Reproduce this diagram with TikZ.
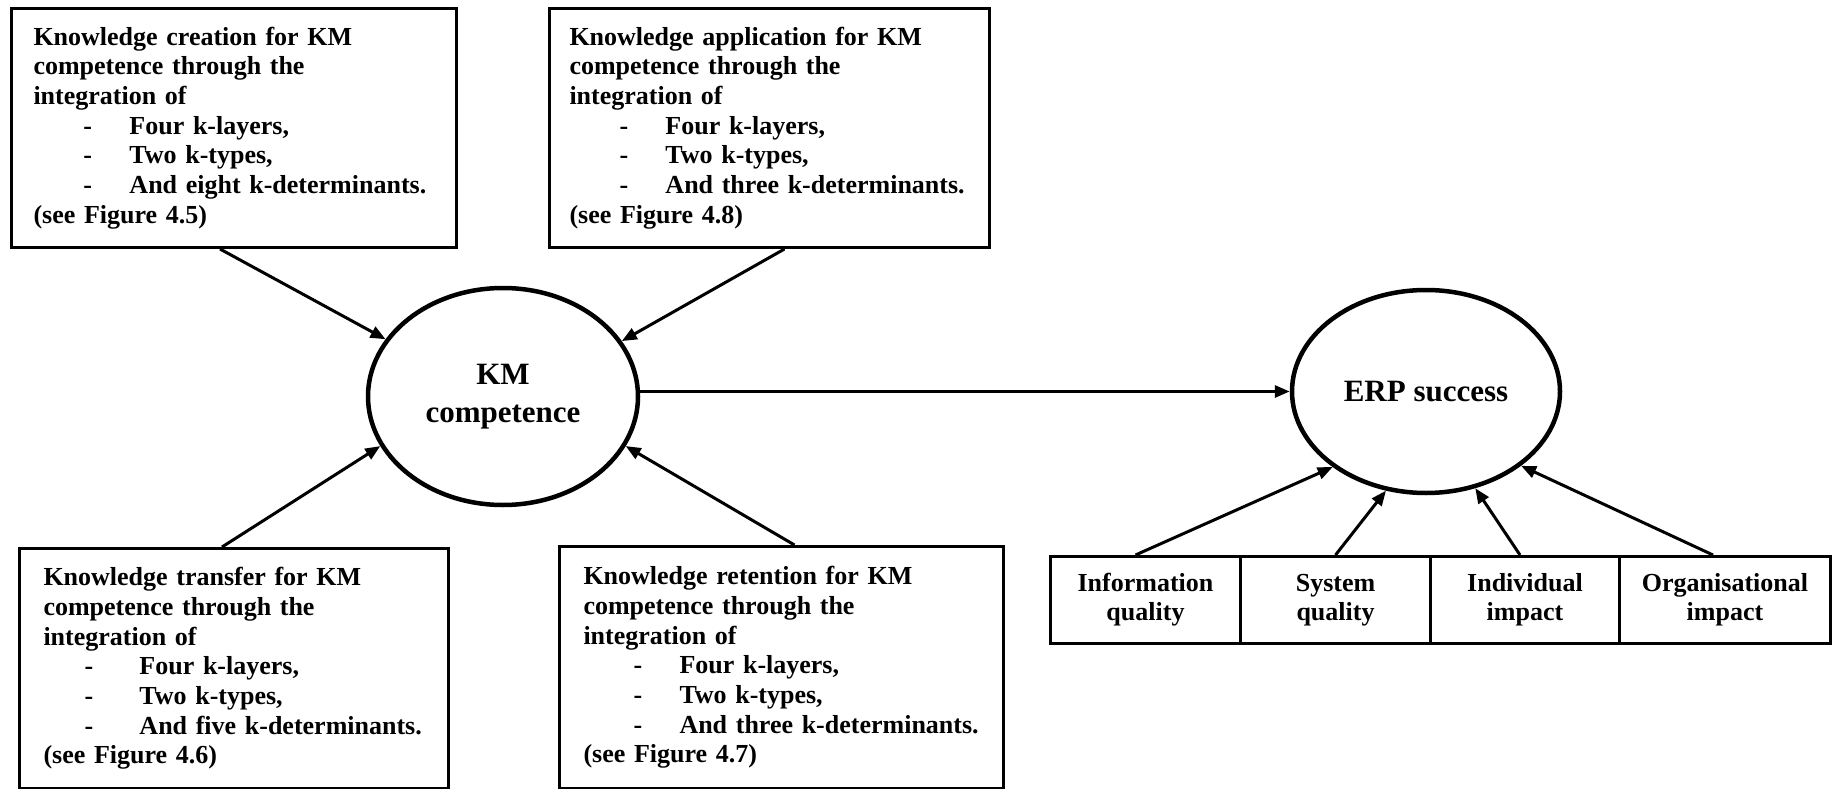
\documentclass[tikz,border=0pt]{standalone}
\usepackage{fontspec}
\setmainfont{Liberation Serif}
\usetikzlibrary{arrows.meta,shapes.geometric}
\newcommand{\litem}[2][50pt]{\makebox[96pt][l]{\hspace*{#1}-}#2}
\begin{document}
\begin{tikzpicture}[x=1pt,y=-1pt,
  kbox/.style={draw, line width=3pt, anchor=north west, inner xsep=5pt, inner ysep=0pt, align=left,
    font=\bfseries\fontsize{26}{29.7}\selectfont},
  oval/.style={draw, ellipse, line width=4.5pt, inner sep=0pt, align=center,
    font=\bfseries\fontsize{31}{38}\selectfont},
  sbox/.style={draw, line width=3pt, anchor=north west, minimum height=87pt, inner sep=0pt, align=center,
    font=\bfseries\fontsize{26}{29}\selectfont},
  arr/.style={line width=3pt, -{Triangle[length=15pt,width=12pt]}}]
\useasboundingbox (0,0) rectangle (1832,789);

\node[kbox, minimum width=445pt, minimum height=239pt, text width=401pt] (cr) at (10,7)
 {Knowledge creation for KM\\ competence through the\\ integration of\\
  \litem{Four k-layers,}\\ \litem{Two k-types,}\\ \litem{And eight k-determinants.}\\ (see Figure 4.5)};

\node[kbox, minimum width=440pt, minimum height=239pt, text width=400pt] (ap) at (548,7)
 {Knowledge application for KM\\ competence through the\\ integration of\\
  \litem{Four k-layers,}\\ \litem{Two k-types,}\\ \litem{And three k-determinants.}\\ (see Figure 4.8)};

\node[kbox, minimum width=429pt, minimum height=240pt, text width=381pt] (tr) at (18,547)
 {Knowledge transfer for KM\\ competence through the\\ integration of\\
  \litem[41pt]{Four k-layers,}\\ \litem[41pt]{Two k-types,}\\ \litem[41pt]{And five k-determinants.}\\ (see Figure 4.6)};

\node[kbox, minimum width=444pt, minimum height=242pt, text width=396pt] (re) at (558,545)
 {Knowledge retention for KM\\ competence through the\\ integration of\\
  \litem{Four k-layers,}\\ \litem{Two k-types,}\\ \litem{And three k-determinants.}\\ (see Figure 4.7)};

\node[oval, minimum width=270pt, minimum height=217pt] (km) at (503,396.5) {KM\\competence};
\node[oval, minimum width=268pt, minimum height=203pt] (erp) at (1426,391.5) {ERP success};

\node[sbox, minimum width=190pt] (iq) at (1049,555) {Information\\quality};
\node[sbox, minimum width=190pt] (sq) at (1239,555) {System\\quality};
\node[sbox, minimum width=189pt] (ii) at (1429,555) {Individual\\impact};
\node[sbox, minimum width=211pt] (oi) at (1618,555) {Organisational\\impact};

\draw[arr] ([xshift=-14pt]cr.south) -- (km.154);
\draw[arr] ([xshift=15pt]ap.south) -- (km.25);
\draw[arr] ([xshift=-12pt]tr.north) -- (km.202);
\draw[arr] ([xshift=13pt]re.north) -- (km.338);
\draw[arr] (km.east |- erp.west) -- (erp.west);

\draw[arr] ([xshift=-10pt]iq.north) -- (erp.219);
\draw[arr] (sq.north) -- (erp.248);
\draw[arr] ([xshift=-5pt]ii.north) -- (erp.297);
\draw[arr] ([xshift=-12pt]oi.north) -- (erp.322);
\end{tikzpicture}
\end{document}
